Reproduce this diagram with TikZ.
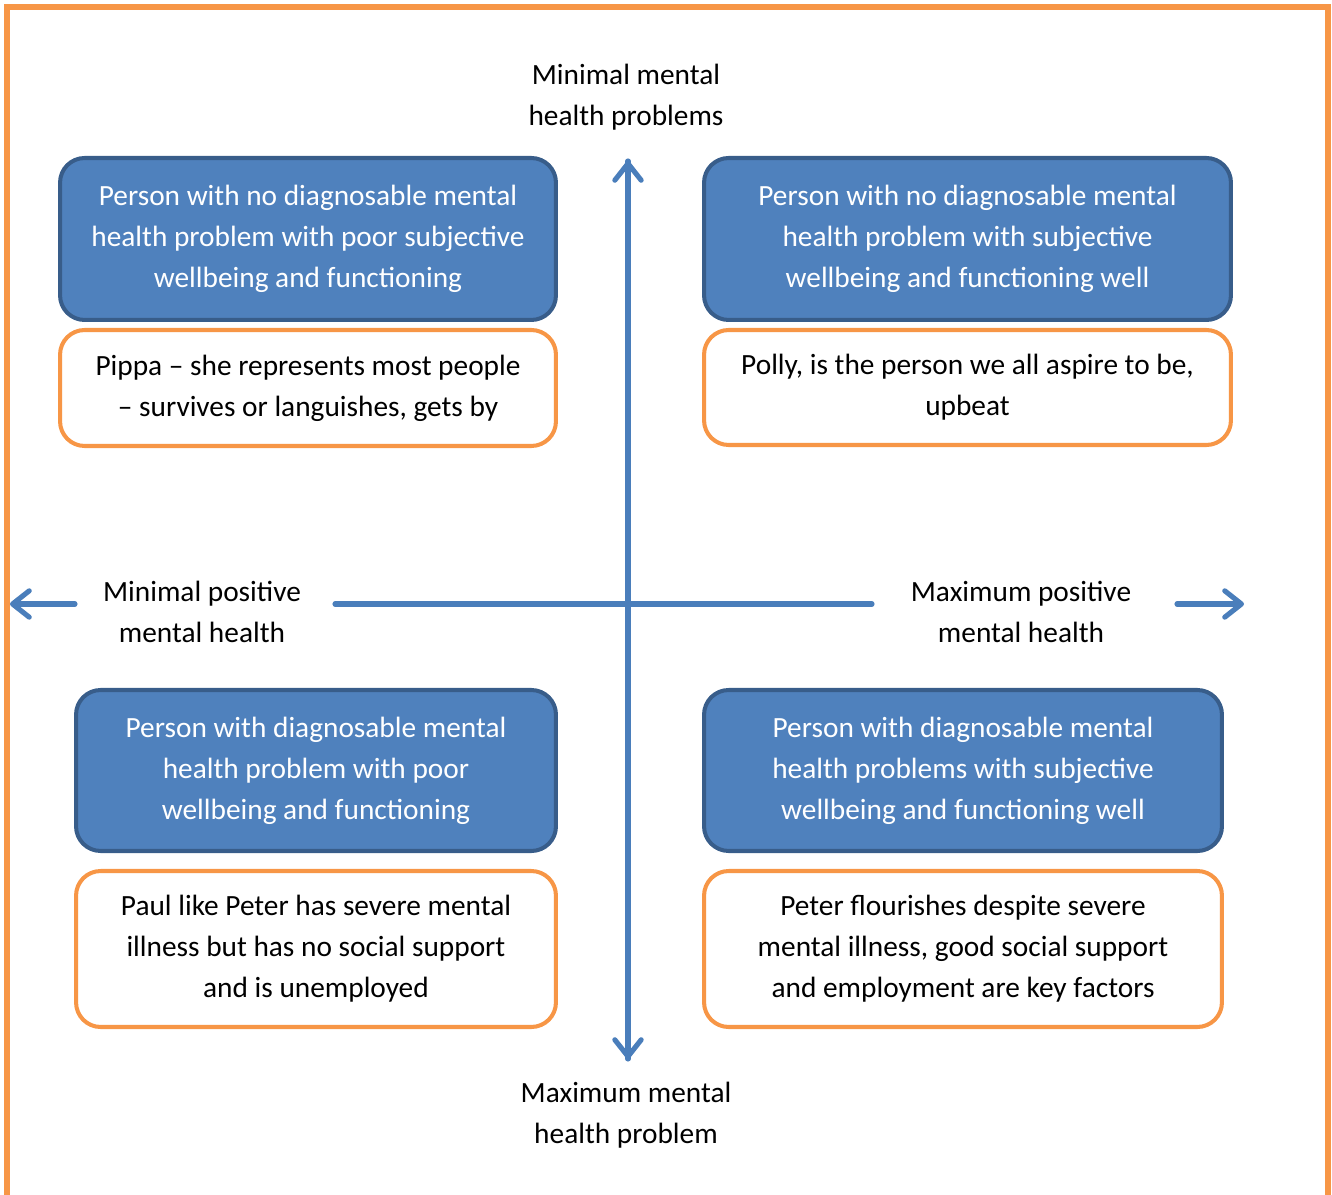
\documentclass[tikz,border=0pt]{standalone}
\usepackage{fontspec}
\setmainfont{Carlito}
\usetikzlibrary{arrows.meta}
\definecolor{axisblue}{HTML}{4A7EBB}
\definecolor{boxblue}{HTML}{4F81BD}
\definecolor{boxedge}{HTML}{385D8A}
\definecolor{noteorange}{HTML}{F79646}
\begin{document}
\begin{tikzpicture}[x=0.02cm,y=-0.02cm,
	font=\fontsize{16.7}{23.3}\selectfont,
	quad_box/.style={draw=boxedge,fill=boxblue,text=white,line width=2.3pt,rounded corners=14pt,align=center,inner sep=0pt},
	note_box/.style={draw=noteorange,fill=white,line width=2.3pt,rounded corners=14pt,align=center,inner sep=0pt},
	axis_label/.style={align=center,inner sep=0pt},
	axis_line/.style={axisblue,line width=2.9pt,line cap=round},
	axis_tip/.style={-{Straight Barb[length=9.5pt,width=15pt,line width=2.9pt,round]}}]

	\useasboundingbox (0,0) rectangle (1332,1195);
	\draw[noteorange,line width=2.9pt] (7,1200) -- (7,7) -- (1328,7) -- (1328,1200);

	% axes
	\coordinate (vtop) at (628,161);
	\coordinate (vbot) at (628,1059);
	\coordinate (lstub) at (75,604);
	\coordinate (ltip) at (10,604);
	\coordinate (hl) at (335,604);
	\coordinate (hr) at (872,604);
	\coordinate (rstub) at (1177,604);
	\coordinate (rtip) at (1244,604);
	\draw[axis_line,axis_tip] (vbot) -- (vtop);
	\draw[axis_line,axis_tip] (vtop) -- (vbot);
	\draw[axis_line,axis_tip] (lstub) -- (ltip);
	\draw[axis_line] (hl) -- (hr);
	\draw[axis_line,axis_tip] (rstub) -- (rtip);

	\node[axis_label] (top) at (626,97) {Minimal mental\\health problems};
	\node[axis_label] (bottom) at (626,1115) {Maximum mental\\health problem};
	\node[axis_label] (left) at (202,612) {Minimal positive\\mental health};
	\node[axis_label] (right) at (1021,612) {Maximum positive\\mental health};

	% quadrants
	\node[quad_box,minimum width=9.92cm,minimum height=3.24cm] (tl) at (308,239) {Person with no diagnosable mental\\health problem with poor subjective\\wellbeing and functioning};
	\node[note_box,minimum width=9.92cm,minimum height=2.32cm] (tln) at (308,388) {Pippa – she represents most people\\– survives or languishes, gets by};
	\node[quad_box,minimum width=10.54cm,minimum height=3.24cm] (tr) at (967.5,239) {Person with no diagnosable mental\\health problem with subjective\\wellbeing and functioning well};
	\node[note_box,minimum width=10.54cm,minimum height=2.3cm] (trn) at (967.5,387.5) {Polly, is the person we all aspire to be,\\upbeat};
	\node[quad_box,minimum width=9.6cm,minimum height=3.22cm] (bl) at (316,770.5) {Person with diagnosable mental\\health problem with poor\\wellbeing and functioning};
	\node[note_box,minimum width=9.6cm,minimum height=3.12cm] (bln) at (316,949) {Paul like Peter has severe mental\\illness but has no social support\\and is unemployed};
	\node[quad_box,minimum width=10.36cm,minimum height=3.22cm] (br) at (963,770.5) {Person with diagnosable mental\\health problems with subjective\\wellbeing and functioning well};
	\node[note_box,minimum width=10.36cm,minimum height=3.12cm] (brn) at (963,949) {Peter flourishes despite severe\\mental illness, good social support\\and employment are key factors};
\end{tikzpicture}
\end{document}
